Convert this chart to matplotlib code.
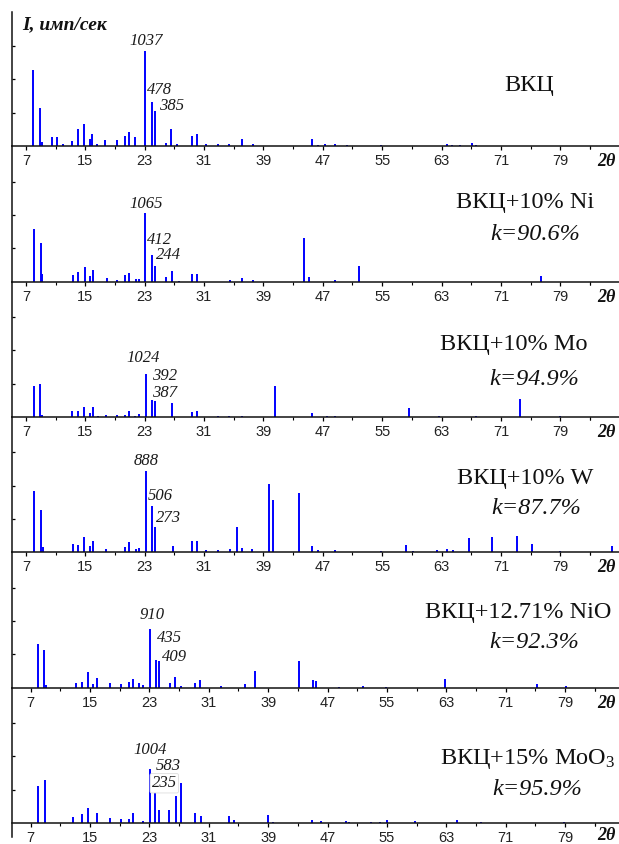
import matplotlib
matplotlib.use('Agg')
import matplotlib.pyplot as plt
from matplotlib.ticker import FixedLocator

plt.rcParams['font.family'] = ['Liberation Serif', 'DejaVu Serif']
plt.rcParams['mathtext.fontset'] = 'custom'
plt.rcParams['mathtext.rm'] = 'Liberation Serif'
plt.rcParams['mathtext.it'] = 'Liberation Serif:italic'

W, H = 619, 844

# line positions (2 theta) and intensities (imp/s)
pos_vkc = [8.0, 8.85, 9.1, 10.46, 11.18, 11.94, 13.15, 13.96, 14.77, 15.62, 15.85, 16.57, 17.65, 19.26,
           20.34, 20.88, 21.69, 23.08, 23.94, 24.43, 25.9, 26.58, 27.39, 29.33, 30.0, 31.22, 32.84, 34.3,
           36.1, 37.6, 45.6, 46.4, 47.3, 48.6, 50.2, 54.9, 63.8, 64.4, 65.5, 67.1, 67.6]
int_vkc = [828, 418, 40, 98, 98, 22, 55, 185, 240, 76, 131, 22, 65, 65,
           109, 153, 98, 1037, 478, 385, 33, 185, 22, 109, 131, 22, 22, 22,
           76, 22, 76, 11, 22, 22, 11, 11, 22, 11, 11, 33, 11]

pos_ni = [8.03, 8.98, 9.1, 13.29, 13.96, 14.95, 15.62, 16.03, 17.9, 19.26, 20.34, 20.88, 21.82, 22.23,
          23.08, 23.94, 24.43, 25.9, 26.72, 27.58, 29.33, 30.0, 34.5, 36.1, 37.6, 44.5, 45.2, 48.7, 51.9, 76.4]
int_ni = [816, 598, 125, 109, 156, 224, 94, 187, 62, 31, 109, 140, 47, 47,
          1065, 412, 244, 78, 172, 16, 125, 125, 31, 62, 31, 676, 70, 26, 245, 88]

pos_mo = [8.03, 8.85, 9.1, 13.16, 13.96, 14.77, 15.62, 16.03, 16.7, 17.78, 19.26, 20.34, 20.88, 21.69,
          22.27, 23.2, 23.94, 24.43, 26.72, 29.33, 30.0, 32.84, 34.3, 36.1, 40.6, 45.6, 47.5, 48.6,
          58.6, 62.6, 67.7, 73.6, 79.0]
int_mo = [731, 779, 47, 142, 142, 236, 94, 236, 24, 47, 47, 47, 142, 24,
          71, 1024, 392, 387, 330, 118, 142, 24, 24, 24, 731, 94, 24, 24,
          220, 24, 24, 425, 24]

pos_w = [8.03, 8.98, 9.25, 13.29, 13.96, 14.77, 15.62, 16.03, 17.78, 20.34, 20.88, 21.82, 22.23, 23.2,
         23.94, 24.43, 26.85, 29.33, 30.0, 31.22, 32.84, 34.45, 35.5, 36.05, 37.4, 39.8, 40.29, 43.8,
         45.6, 46.4, 48.6, 54.84, 58.2, 59.2, 62.4, 63.8, 64.5, 66.7, 69.8, 73.2, 75.2, 79.0, 86.0]
int_w = [670, 462, 55, 87, 76, 164, 66, 120, 33, 55, 109, 33, 44, 888,
         506, 273, 66, 120, 120, 22, 22, 33, 273, 44, 33, 746, 571, 648,
         66, 22, 22, 11, 76, 11, 22, 33, 22, 153, 164, 175, 87, 11, 66]

pos_nio = [7.94, 8.75, 9.0, 13.06, 13.87, 14.68, 15.36, 15.89, 17.65, 19.13, 20.29, 20.83, 21.64, 22.18,
           23.12, 23.93, 24.33, 25.8, 26.5, 27.3, 29.18, 29.86, 32.69, 35.92, 37.19, 43.2, 45.09, 45.4,
           48.6, 51.74, 54.9, 62.8, 75.3, 79.2]
int_nio = [676, 582, 47, 78, 94, 250, 62, 156, 78, 62, 94, 140, 78, 47,
           910, 435, 409, 78, 172, 31, 78, 125, 31, 62, 265, 421, 125, 109,
           16, 31, 16, 140, 62, 31]

pos_moo3 = [7.94, 8.89, 12.66, 13.87, 14.68, 15.89, 17.65, 19.13, 20.2, 20.79, 22.13, 23.12, 23.79, 24.33,
            25.68, 26.62, 27.3, 29.18, 29.9, 33.68, 34.36, 38.94, 39.6, 44.95, 46.16, 49.5, 49.9, 52.8,
            54.07, 55.06, 58.8, 64.5, 67.7, 78.9]
int_moo3 = [684, 795, 111, 166, 277, 185, 92, 74, 74, 185, 37, 1004, 583, 235,
            240, 499, 740, 185, 129, 129, 55, 148, 18, 55, 37, 37, 18, 18,
            18, 55, 37, 55, 18, 18]

samples = ['ВКЦ', 'ВКЦ+10% Ni', 'ВКЦ+10% Mo', 'ВКЦ+10% W', 'ВКЦ+12.71% NiO', 'ВКЦ+15% MoO$_3$']
k_values = [None, '90.6', '94.9', '87.7', '92.3', '95.9']
labelled = [(1037, 478, 385), (1065, 412, 244), (1024, 392, 387),
            (888, 506, 273), (910, 435, 409), (1004, 583, 235)]
x_ticks = [7, 15, 23, 31, 39, 47, 55, 63, 71, 79]

all_pos = [pos_vkc, pos_ni, pos_mo, pos_w, pos_nio, pos_moo3]
all_int = [int_vkc, int_ni, int_mo, int_w, int_nio, int_moo3]

# layout (pixels)
axis_y = [146, 281.7, 417, 552.3, 687.7, 823]
top_y = [12, 146, 281.7, 417, 552.3, 687.7]
x7_px = [26, 26, 26, 26, 30.7, 30.7]
px_deg = 7.42
left_px = 12
ystep = [364, 520, 788, 364, 520, 616]   # counts per 33.3 px
lab_off = [[(1, 10), (8, 12), (16, 5)],
           [(1, 9), (8, 15), (13, 11)],
           [(-3, 16), (13, 24), (9, 8)],
           [(0, 10), (9, 10), (13, 9)],
           [(2, 14), (13, 22), (15, 4)],
           [(0, 19), (13, 25), (5, 27)]]
title_xy = [(529, 90.7), (525, 208.3), (514, 350), (525, 484.3), (518, 618.3), (528, 764)]
k_xy = [None, (535, 240), (534, 385), (536, 514), (534, 648.3), (537, 795)]
theta_dy = [7, 7, 7, 7, 7, 4]

fig = plt.figure(figsize=(W / 100, H / 100), dpi=100)

for i in range(6):
    cpp = ystep[i] / 33.33
    bottom_px = axis_y[i] + (14 if i == 5 else 0)
    ax = fig.add_axes([left_px / W, 1 - bottom_px / H, (W - left_px) / W, (bottom_px - top_y[i]) / H])
    ax.patch.set_alpha(0)
    ax.vlines(all_pos[i], 0, all_int[i], color='#0000ff', lw=1.4)

    x0 = 7 - (x7_px[i] - left_px) / px_deg
    ax.set_xlim(x0, x0 + (W - left_px) / px_deg)
    ax.set_ylim(-(bottom_px - axis_y[i]) * cpp, (axis_y[i] - top_y[i]) * cpp)
    ax.spines['bottom'].set_position(('data', 0))
    for s in ['top', 'right']:
        ax.spines[s].set_visible(False)
    for s in ['left', 'bottom']:
        ax.spines[s].set_linewidth(1.1)
        ax.spines[s].set_color('#111111')

    ax.xaxis.set_major_locator(FixedLocator(x_ticks))
    ax.xaxis.set_minor_locator(FixedLocator([t + 4 for t in x_ticks] + [3, 83]))
    ax.set_xticklabels([str(t) for t in x_ticks], family='Liberation Sans', fontsize=10.5, color='#222222')
    ax.tick_params(axis='x', which='major', direction='out', length=3.2, width=0.9, pad=2.5)
    ax.tick_params(axis='x', which='minor', direction='out', length=2.4, width=0.8)
    ax.yaxis.set_major_locator(FixedLocator([ystep[i], 2 * ystep[i], 3 * ystep[i]]))
    ax.yaxis.set_minor_locator(FixedLocator([]))
    ax.tick_params(axis='y', direction='in', length=2.4, width=0.9, labelleft=False)

    for v, (dx, dy) in zip(labelled[i], lab_off[i]):
        j = all_int[i].index(v)
        bb = None
        if i == 5 and v == 235:
            bb = dict(boxstyle='round,pad=0.1', fc='white', ec='#dddddd', lw=0.6)
        ax.annotate(str(v), xy=(all_pos[i][j], v), xytext=(dx, dy), textcoords='offset pixels',
                    ha='center', va='center', fontsize=12, style='italic', color='#1a1a1a', bbox=bb)

    tx, ty = title_xy[i]
    fig.text(tx / W, 1 - ty / H, samples[i], ha='center', va='baseline', fontsize=17.5, color='#111111')
    if k_values[i]:
        kx, ky = k_xy[i]
        fig.text(kx / W, 1 - ky / H, 'k=' + k_values[i] + '%', ha='center', va='baseline',
                 fontsize=17.5, style='italic', color='#111111')
    fig.text(606 / W, 1 - (axis_y[i] + theta_dy[i]) / H, '2θ', ha='center', va='top', fontsize=13,
             style='italic', weight='bold', color='#111111')

fig.text(22 / W, 1 - 29.5 / H, 'I, имп/сек', ha='left', va='baseline', fontsize=14,
         style='italic', weight='bold', color='#111111')

fig.savefig('out.png', dpi=100)
